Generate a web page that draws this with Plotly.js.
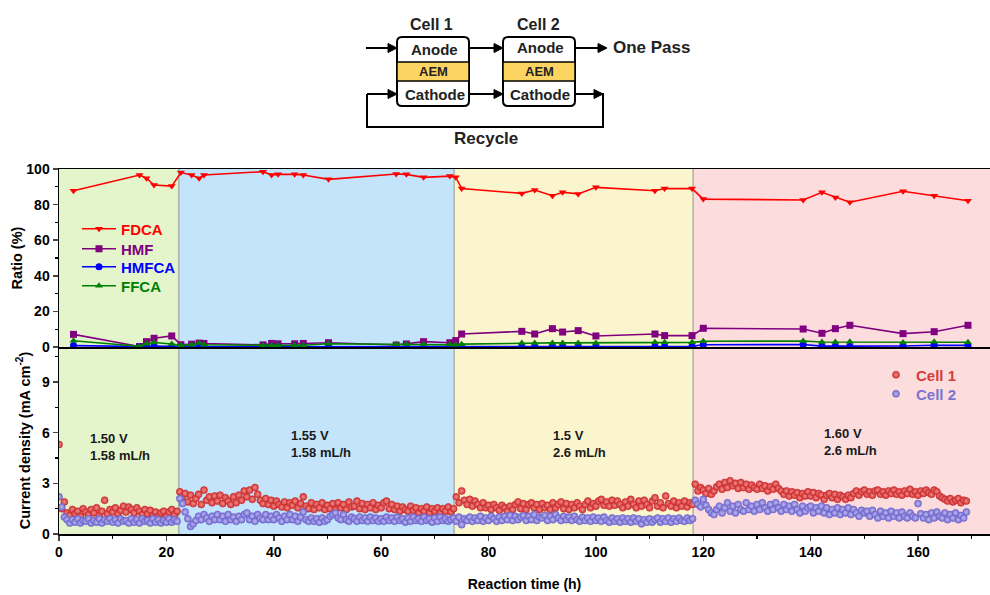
<!DOCTYPE html>
<html>
<head>
<meta charset="utf-8">
<script src="https://cdn.plot.ly/plotly-3.0.1.min.js"></script>
<style>html,body{margin:0;padding:0;background:#fff;}#chart{width:990px;height:595px;}</style>
</head>
<body>
<div id="chart"></div>
<script>
// ---------------- DATA ----------------
// Product ratio sampling times (h)
const sampleTime = [2.7, 15, 16.3, 17.7, 21, 22.7, 24.7, 26.1, 27, 38, 39.6, 40.8, 43.9, 45.5, 50.2, 62.8, 64.7, 67.9, 72.8, 73.9, 75, 86.2, 88.6, 91.9, 93.8, 96.7, 100, 111, 112.8, 117.9, 120, 138.6, 142.1, 144.6, 147.3, 157.2, 163, 169.3];
const fdca  = [87.8, 96.6, 94.8, 91, 90.4, 98, 96.6, 94.8, 96.6, 98.5, 96.6, 97, 97, 96.6, 94.2, 97.2, 97, 95.3, 96, 95.3, 89, 86.3, 88.2, 85, 86.9, 86, 89.7, 87.8, 89, 89, 83.1, 82.6, 86.9, 84, 81.3, 87.5, 85, 82.2];
const hmf   = [7.1, 0.3, 3.0, 4.9, 6.2, 1.3, 1.6, 2.2, 2.0, 1.2, 2.0, 1.8, 1.8, 2.0, 2.4, 1.1, 1.7, 3.0, 2.4, 3.6, 7.3, 8.8, 7.3, 10.3, 8.4, 9.2, 6.2, 7.3, 6.4, 6.4, 10.5, 10.1, 7.7, 10.3, 12.2, 7.5, 8.6, 12.2];
const hmfca = [0.8, 0.1, 0.2, 0.5, 0.2, 0.1, 0.1, 0.1, 0.1, 0.1, 0.1, 0.1, 0.1, 0.1, 0.2, 0.2, 0.2, 0.2, 0.2, 0.2, 0.2, 0.2, 0.3, 0.3, 0.3, 0.3, 0.3, 0.4, 0.4, 0.4, 1.3, 1.4, 0.5, 0.6, 0.5, 0.6, 1.0, 0.9];
const ffca  = [3.5, 0.4, 1.8, 2.5, 1.7, 1.0, 1.2, 2.2, 1.3, 0.8, 1.0, 0.9, 1.0, 1.0, 1.8, 1.5, 1.5, 1.6, 1.4, 1.2, 1.6, 2.3, 2.3, 2.3, 2.3, 2.3, 2.2, 2.6, 2.6, 2.6, 3.2, 3.4, 2.8, 2.8, 2.9, 2.5, 2.9, 2.7];

// Current density, logged every 0.5 h starting at 0 h (mA cm-2); one row = 10 h
const logStart = 0;
const logStep = 0.5;
const cell1 = [
 5.3,1.5,1.9,1.25,1.1,1.45,1.2,1.35,1.05,1.5,1.3,1.15,1.45,1.25,1.55,1.1,1.35,2.0,1.2,1.45,
 1.3,1.55,1.2,1.4,1.65,1.3,1.6,1.45,1.25,1.55,1.35,1.15,1.45,1.2,1.4,1.1,1.3,1.05,1.25,1.35,
 1.05,1.3,1.45,1.15,1.35,2.5,2.2,2.4,1.9,2.3,1.8,2.1,2.35,1.75,2.6,2.0,2.2,1.85,2.25,1.95,
 2.3,1.8,2.15,1.95,1.75,2.2,1.85,2.3,2.0,2.55,2.2,2.6,2.05,2.75,2.35,2.0,1.8,2.1,1.75,2.0,
 1.65,1.95,1.75,1.6,1.9,1.55,1.85,1.7,1.95,1.55,1.8,2.2,1.65,1.5,1.85,1.45,1.75,1.55,1.85,1.45,
 1.7,1.5,1.8,1.45,1.85,1.55,1.75,1.45,1.9,1.6,1.65,1.95,1.5,1.8,1.45,1.75,1.55,1.85,1.45,1.7,
 1.55,1.85,1.95,1.5,1.75,1.45,1.65,1.35,1.6,1.45,1.35,1.65,1.4,1.55,1.25,1.5,1.35,1.6,1.25,1.5,
 1.35,1.55,1.25,1.5,1.35,1.6,1.3,1.5,2.2,1.85,2.55,2.0,1.75,2.05,1.65,1.95,1.75,1.55,1.85,1.55,
 1.7,1.45,1.75,1.55,1.4,1.7,1.55,1.35,1.65,1.45,1.75,1.9,1.5,1.8,1.45,1.75,1.85,1.55,1.75,1.45,
 1.8,1.55,1.7,1.45,1.85,1.55,1.75,1.9,1.5,1.8,1.45,1.75,1.55,1.85,1.65,1.45,1.75,1.95,1.55,1.8,
 1.65,1.95,2.05,1.7,1.9,1.65,2.0,1.7,1.95,1.75,1.55,1.9,1.65,2.05,1.75,1.55,1.95,1.65,2.0,1.75,
 1.55,1.95,2.15,1.65,1.85,1.55,2.25,1.8,1.65,1.95,1.55,1.85,1.65,1.95,1.6,1.85,1.75,2.95,2.55,2.75,
 2.6,2.4,2.7,2.35,2.55,2.8,2.95,2.65,3.05,2.75,3.15,2.85,3.0,2.7,3.05,2.75,2.95,2.65,2.9,2.75,
 2.65,2.95,2.7,2.85,2.55,2.8,2.65,2.95,2.7,2.55,2.35,2.55,2.25,2.5,2.3,2.45,2.15,2.4,2.25,2.5,
 2.25,2.45,2.15,2.4,2.3,2.05,2.3,2.4,2.15,2.35,2.05,2.3,2.2,2.05,2.3,2.15,2.4,2.55,2.3,2.5,
 2.6,2.35,2.5,2.3,2.55,2.6,2.35,2.5,2.3,2.55,2.4,2.6,2.35,2.5,2.3,2.55,2.4,2.65,2.35,2.5,
 2.3,2.55,2.4,2.6,2.45,2.35,2.6,2.5,2.25,2.15,2.05,1.95,2.1,1.9,2.0,2.1,1.85,2.0,1.95
];
const cell2 = [
 2.2,1.6,1.0,0.85,0.65,0.85,0.7,0.9,0.65,0.8,0.75,0.9,0.65,0.8,0.7,0.9,0.65,0.85,0.75,0.9,
 0.7,0.85,0.65,0.9,0.75,0.8,0.65,0.9,0.7,0.85,0.65,0.9,0.75,0.8,0.65,0.9,0.7,0.85,0.65,0.8,
 0.7,0.9,0.7,0.85,0.75,2.1,1.8,1.3,0.9,0.45,0.6,0.8,1.05,0.85,1.15,0.95,0.75,1.05,0.85,1.15,
 0.85,1.05,0.75,1.15,0.85,1.0,0.75,1.05,0.85,1.15,1.25,0.85,1.05,0.75,1.15,0.95,0.85,1.15,0.85,1.05,
 0.85,1.15,0.95,0.75,1.05,0.85,1.15,0.85,1.05,0.75,1.0,1.3,0.85,0.75,0.95,0.75,0.9,0.7,0.95,0.75,
 0.85,1.05,1.15,1.25,0.95,0.85,1.15,0.85,0.75,1.0,0.9,0.75,1.0,0.8,0.95,0.75,1.0,0.8,0.95,0.75,
 0.9,0.75,1.0,0.8,0.95,0.75,1.0,0.8,0.9,0.7,0.95,0.75,1.0,0.8,0.9,0.75,1.0,0.8,0.9,0.7,
 0.95,0.75,1.0,0.8,0.9,0.75,0.85,0.95,0.75,1.0,0.55,0.9,0.8,1.0,0.75,0.95,0.8,1.05,0.75,0.95,
 0.8,1.05,0.9,0.75,1.0,0.8,1.05,0.85,1.1,0.8,1.05,0.85,1.0,1.1,0.8,1.05,0.85,1.15,0.8,1.0,
 0.95,1.1,0.8,1.05,0.85,1.15,0.95,0.8,1.05,0.85,1.0,0.8,1.05,0.85,0.75,1.0,0.8,0.95,0.75,1.0,
 0.8,0.95,0.75,1.0,0.8,0.7,0.95,0.75,0.9,0.7,0.95,0.75,0.9,0.7,0.95,0.75,0.9,0.6,0.85,0.7,
 0.9,0.7,0.85,0.95,0.7,0.9,0.75,0.95,0.7,0.9,0.75,0.95,0.8,0.75,0.95,0.8,0.9,2.0,1.75,1.6,
 2.05,1.7,1.45,1.25,1.15,1.45,1.65,1.25,1.55,1.85,1.35,1.65,1.25,1.75,1.45,1.35,1.85,1.45,1.65,1.35,
 1.75,1.45,1.85,1.55,1.35,1.75,1.45,1.85,1.55,1.35,1.75,1.45,1.65,1.35,1.75,1.45,1.25,1.65,1.35,1.55,
 1.65,1.25,1.55,1.35,1.65,1.25,1.55,1.15,1.45,1.25,1.55,1.15,1.45,1.25,1.55,1.15,1.45,1.25,1.05,1.4,
 1.25,1.35,1.05,1.4,1.15,0.95,1.35,1.05,1.25,0.95,1.35,1.05,1.25,0.95,1.3,1.05,0.95,1.25,1.05,0.95,
 1.8,1.2,0.95,1.15,0.85,1.25,0.95,1.3,1.05,0.95,1.25,0.85,1.15,0.95,1.25,0.85,1.1,0.95,1.3
];

// Operating stages (h) and their conditions
const stageStart = [0, 22.3, 73.6, 118.1];
const stageEnd   = [22.3, 73.6, 118.1, 173.4];
const stageVoltage = ['1.50 V', '1.55 V', '1.5 V', '1.60 V'];
const stageFlow    = ['1.58 mL/h', '1.58 mL/h', '2.6 mL/h', '2.6 mL/h'];

// Axis tick labels
const xTicks = [0, 20, 40, 60, 80, 100, 120, 140, 160];
const ratioTicks = [0, 20, 40, 60, 80, 100];
const currentTicks = [0, 3, 6, 9];

// ---------------- DRAWING ----------------
const FONT = 'Arial, "Liberation Sans", Helvetica, sans-serif';
const logTime = cell1.map((_, i) => logStart + i * logStep);
const logTime2 = cell2.map((_, i) => logStart + i * logStep);

// paper-coordinate helpers (plot area: left 59, width 931, bottom 534, height 365)
const PX = x => (x - 59) / 931;
const PY = y => (534 - y) / 365;

function ratioTrace(name, y, color, symbol, legendId) {
  return {
    type: 'scatter', mode: 'lines+markers', x: sampleTime, y: y,
    xaxis: 'x2', yaxis: 'y2', legend: legendId,
    name: '<span style="color:' + color + '">' + name + '</span>',
    line: {color: color, width: 1.6},
    marker: {color: color, symbol: symbol, size: 7}
  };
}

const traces = [
  ratioTrace('FDCA', fdca, '#ff0000', 'triangle-down', 'legend'),
  ratioTrace('HMF', hmf, '#800080', 'square', 'legend2'),
  ratioTrace('HMFCA', hmfca, '#0000ff', 'circle', 'legend3'),
  ratioTrace('FFCA', ffca, '#008000', 'triangle-up', 'legend4'),
  {
    type: 'scatter', mode: 'markers', x: logTime, y: cell1, xaxis: 'x', yaxis: 'y',
    legend: 'legend5', name: '<span style="color:#d43c3c">Cell 1</span>',
    marker: {color: 'rgb(212,52,52)', size: 7, line: {color: 'rgb(196,38,38)', width: 0.6},
             gradient: {type: 'radial', color: 'rgb(240,140,140)'}}
  },
  {
    type: 'scatter', mode: 'markers', x: logTime2, y: cell2, xaxis: 'x', yaxis: 'y',
    legend: 'legend6', name: '<span style="color:#7a74d0">Cell 2</span>',
    marker: {color: 'rgb(118,110,210)', size: 7, line: {color: 'rgb(104,96,204)', width: 0.6},
             gradient: {type: 'radial', color: 'rgb(190,186,238)'}}
  }
];

const stageColors = ['#e4f5cb', '#c3e4fa', '#faf5cc', '#fddcde'];
const shapes = [];
stageStart.forEach((s, i) => {
  shapes.push({type: 'rect', xref: 'x', yref: 'paper', x0: s, x1: stageEnd[i], y0: 0, y1: 1,
    fillcolor: stageColors[i], line: {width: 0}, layer: 'below'});
  if (i > 0) shapes.push({type: 'line', xref: 'x', yref: 'paper', x0: s, x1: s, y0: 0, y1: 1,
    line: {color: 'rgba(150,150,150,0.7)', width: 1.5}, layer: 'below'});
});

// schematic boxes
function roundRect(x0, y0, x1, y1, r) {
  const a = PX(x0), b = PX(x1), c = PY(y0), d = PY(y1);
  const rx = r / 931, ry = r / 365;
  return 'M' + (a + rx) + ',' + c + ' L' + (b - rx) + ',' + c + ' Q' + b + ',' + c + ' ' + b + ',' + (c - ry) +
    ' L' + b + ',' + (d + ry) + ' Q' + b + ',' + d + ' ' + (b - rx) + ',' + d +
    ' L' + (a + rx) + ',' + d + ' Q' + a + ',' + d + ' ' + a + ',' + (d + ry) +
    ' L' + a + ',' + (c - ry) + ' Q' + a + ',' + c + ' ' + (a + rx) + ',' + c + ' Z';
}
[[397, 469], [503, 575]].forEach(([x0, x1]) => {
  shapes.push({type: 'path', xref: 'paper', yref: 'paper', path: roundRect(x0, 37, x1, 106, 5),
    fillcolor: 'white', line: {color: 'black', width: 2}});
  shapes.push({type: 'rect', xref: 'paper', yref: 'paper', x0: PX(x0), x1: PX(x1), y0: PY(62), y1: PY(81),
    fillcolor: '#fcd462', line: {color: 'black', width: 1.5}});
});
// recycle loop
shapes.push({type: 'path', xref: 'paper', yref: 'paper',
  path: 'M' + PX(596) + ',' + PY(94) + ' L' + PX(603) + ',' + PY(94) + ' L' + PX(603) + ',' + PY(127) +
        ' L' + PX(367) + ',' + PY(127) + ' L' + PX(367) + ',' + PY(94),
  line: {color: 'black', width: 2}});
// arrows drawn as a shaft plus a filled head (pointing right)
function arrow(xh, yh, xt) {
  shapes.push({type: 'line', xref: 'paper', yref: 'paper', x0: PX(xt), x1: PX(xh - 6), y0: PY(yh), y1: PY(yh),
    line: {color: 'black', width: 2}});
  shapes.push({type: 'path', xref: 'paper', yref: 'paper',
    path: 'M' + PX(xh) + ',' + PY(yh) + ' L' + PX(xh - 9) + ',' + PY(yh - 4.5) + ' L' + PX(xh - 9) + ',' + PY(yh + 4.5) + ' Z',
    fillcolor: 'black', line: {color: 'black', width: 1}});
}
arrow(397, 48, 366);
arrow(503, 48, 469);
arrow(503, 94, 469);
arrow(607, 48, 575);
arrow(603, 94, 575);
arrow(397, 94, 367);

const annotations = [];
function txt(x, y, text, size, extra) {
  annotations.push(Object.assign({xref: 'paper', yref: 'paper', x: PX(x), y: PY(y), text: text,
    xanchor: 'center', yanchor: 'middle', showarrow: false,
    font: {family: FONT, size: size, color: '#222', weight: 'bold'}}, extra || {}));
}
txt(431, 24, 'Cell 1', 16);
txt(538, 24, 'Cell 2', 16);
txt(434, 49, 'Anode', 15);
txt(433, 71, 'AEM', 13);
txt(435, 94, 'Cathode', 15);
txt(540, 48, 'Anode', 15);
txt(539, 71, 'AEM', 13);
txt(540, 94, 'Cathode', 15);
txt(611, 48, 'One Pass', 17, {xanchor: 'left'});
txt(486, 138, 'Recycle', 17);

// stage condition labels
const labelX = [5.4, 42.8, 91.6, 142.1];
const labelY = [5.15, 5.35, 5.35, 5.45];
stageVoltage.forEach((v, i) => {
  annotations.push({xref: 'x', yref: 'y', x: labelX[i], y: labelY[i], xanchor: 'left', yanchor: 'middle', align: 'left',
    text: v + '<br>' + stageFlow[i], showarrow: false,
    font: {family: FONT, size: 13, color: '#1a1a1a', weight: 'bold'}});
});

const tickFont = {family: FONT, size: 14, color: 'black', weight: 'bold'};
const titleFont = {family: FONT, size: 14.5, color: 'black', weight: 'bold'};
const split = (534 - 347) / 365;

function leg(xPx, yPx, size, width) {
  return {x: PX(xPx), y: PY(yPx), xanchor: 'left', yanchor: 'middle', bgcolor: 'rgba(0,0,0,0)',
    font: {family: FONT, size: size, weight: 'bold'}, itemwidth: width, borderwidth: 0};
}

const layout = {
  width: 990, height: 595,
  margin: {l: 59, r: 0, t: 169, b: 61},
  paper_bgcolor: 'white', plot_bgcolor: 'white',
  showlegend: true,
  xaxis: {domain: [0, 1], anchor: 'y', range: [0, 173.4], tickvals: xTicks,
    showline: true, linecolor: 'black', linewidth: 1.5, ticks: 'outside', ticklen: 5, tickwidth: 1.5,
    minor: {dtick: 10, ticks: 'outside', ticklen: 3, tickwidth: 1.2, tickcolor: 'black'},
    showgrid: false, zeroline: false, tickfont: tickFont,
    title: {text: 'Reaction time (h)', font: {family: FONT, size: 14, color: 'black', weight: 'bold'}, standoff: 20}},
  xaxis2: {domain: [0, 1], anchor: 'y2', matches: 'x', range: [0, 173.4],
    showline: true, linecolor: 'black', linewidth: 1.5, mirror: true, ticks: '',
    showticklabels: false, showgrid: false, zeroline: false},
  yaxis: {domain: [0, split], anchor: 'x', range: [0, 11.07], tickvals: currentTicks,
    showline: true, linecolor: 'black', linewidth: 1.5, ticks: 'outside', ticklen: 5, tickwidth: 1.5,
    minor: {dtick: 1.5, ticks: 'outside', ticklen: 3, tickwidth: 1.2, tickcolor: 'black'},
    showgrid: false, zeroline: false, tickfont: tickFont,
    title: {text: 'Current density (mA cm<sup>-2</sup>)', font: titleFont, standoff: 8}},
  yaxis2: {domain: [split, 1], anchor: 'x2', range: [0, 100], tickvals: ratioTicks,
    showline: true, linecolor: 'black', linewidth: 1.5, ticks: 'outside', ticklen: 5, tickwidth: 1.5,
    minor: {dtick: 10, ticks: 'outside', ticklen: 3, tickwidth: 1.2, tickcolor: 'black'},
    showgrid: false, zeroline: false, tickfont: tickFont,
    title: {text: 'Ratio (%)', font: titleFont, standoff: 0}},
  legend:  leg(77, 229, 15, 34),
  legend2: leg(77, 249, 15, 34),
  legend3: leg(77, 267, 15, 34),
  legend4: leg(77, 286, 15, 34),
  legend5: leg(876, 375, 15, 30),
  legend6: leg(876, 394, 15, 30),
  shapes: shapes,
  annotations: annotations
};

Plotly.newPlot('chart', traces, layout, {displayModeBar: false, staticPlot: true});
</script>
</body>
</html>
